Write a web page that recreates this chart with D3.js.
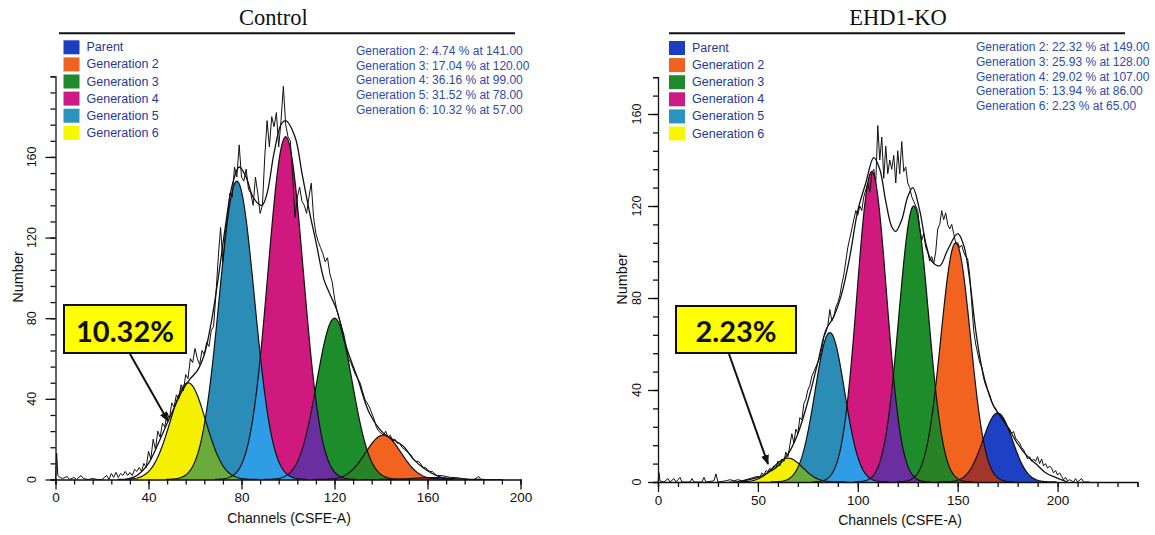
<!DOCTYPE html>
<html>
<head>
<meta charset="utf-8">
<script src="https://cdn.jsdelivr.net/npm/d3@7.9.0/dist/d3.min.js"></script>
<style>
  body { margin: 0; background: #fff; }
  svg text { font-family: "Liberation Sans", Arial, sans-serif; }
</style>
</head>
<body>
<svg id="chart" width="1155" height="535"></svg>
<script>
// legend + peak colours
const legendLabels = ["Parent", "Generation 2", "Generation 3", "Generation 4", "Generation 5", "Generation 6"];
const legendColors = ["#1c3fc2", "#f0621f", "#1f8a2b", "#cc1a86", "#2b93bd", "#f7f700"];
const peakColors = ["#1d40c4", "#f2631f", "#1d8c2a", "#d0197f", "#2b8db6", "#f4f000"];
// colour where two neighbouring peaks overlap (Parent/G2, G2/G3, G3/G4, G4/G5, G5/G6)
const overlapColors = ["#a3352d", "#2a8226", "#6b2ea0", "#2e9de6", "#6aab3c"];

// ---- Control ----
const controlCenters = [162, 141, 120, 99, 78, 57];
const controlHeights = [1, 22, 80, 170, 148, 48];
const controlSigma = 7.6;
const controlPercent = [4.74, 17.04, 36.16, 31.52, 10.32]; // Generation 2..6

const controlHistCh = [0, 0.5, 1, 2, 3, 5, 6, 8, 9, 11, 12, 14, 16, 18, 20, 22, 23, 24, 25, 26, 27, 28, 29, 30, 31, 32, 33, 34, 35, 36, 37, 38, 39,
  40, 41, 42, 43, 44, 45, 46, 47, 48, 49, 50, 51, 52, 53, 54, 55, 56, 57, 58, 59, 60, 61, 62, 63, 64, 65, 66, 67, 68, 69,
  70, 71, 72, 73, 74, 75, 76, 77, 78, 79, 80, 81, 82, 83, 84, 85, 86, 87, 88, 89, 90, 91, 92, 93, 94, 95, 96, 97, 98, 99,
  100, 101, 102, 103, 104, 105, 106, 107, 108, 109, 110, 111, 112, 113, 114, 115, 116, 117, 118, 119, 120, 121, 122, 123, 124,
  125, 126, 127, 128, 129, 130, 131, 132, 133, 134, 135, 136, 137, 138, 139, 140, 141, 142, 143, 144, 145, 146, 147, 148, 149,
  150, 151, 152, 153, 154, 155, 156, 157, 158, 159, 160, 161, 162, 163, 164, 165, 166, 168, 170, 172, 175, 178, 180, 182, 183, 190];
const controlHistN = [0, 13, 2, 1, 0.5, 1.5, 0, 1, 0, 2, 0.5, 0, 0.5, 0, 0, 2, 0, 3, 1, 3.5, 1, 3, 2, 4, 2, 3.5, 2, 5, 4, 6, 4, 8, 6,
  14, 10, 20, 15, 24, 21, 28, 26, 33, 30, 38, 36, 42, 40, 47, 44, 52, 50, 60, 58, 65, 60, 57, 64, 62, 68, 66, 74, 76, 92,
  110, 125, 108, 122, 130, 142, 140, 155, 150, 166, 150, 148, 154, 144, 142, 136, 150, 142, 132, 136, 160, 178, 165, 180, 175, 182, 165, 178, 195, 176,
  170, 168, 150, 130, 140, 145, 138, 136, 132, 140, 147, 130, 122, 118, 115, 112, 108, 110, 102, 98, 90, 84, 80, 76, 72,
  66, 60, 58, 55, 52, 50, 48, 44, 40, 38, 36, 33, 30, 26, 24, 23, 22, 24, 21, 22, 19, 20, 18, 18, 16,
  15, 14, 13, 12, 10, 9, 9, 8, 6, 6, 5, 4, 4, 3, 2, 2, 2, 1.5, 1, 1, 0.5, 0, 0, 1.5, 0, 0];

const controlFitCh = [30, 35, 40, 45, 50, 55, 58, 61, 64, 67, 70, 73, 76, 79, 82, 85, 88.8, 91, 94, 97, 99, 103, 106, 109, 112, 115.5, 118, 121, 125, 130, 135, 141, 145, 149.6, 154, 158, 162, 166, 170];
const controlFitN = [0, 2, 8, 20, 33, 45, 50, 54, 62, 78, 100, 125, 146, 155, 150, 140, 136, 142, 162, 176, 178, 170, 152, 134, 118, 99, 92, 84, 66, 50, 33, 23, 20, 16.5, 10, 6, 3, 1, 0];

// ---- EHD1-KO ----
const koCenters = [170, 149, 128, 107, 86, 65];
const koHeights = [30, 104, 120, 135, 65, 10.4];
const koSigma = 7.4;
const koPercent = [22.32, 25.93, 29.02, 13.94, 2.23];

const koHistCh = [0, 0.5, 1, 3, 5, 6, 8, 9, 11, 12, 16, 17, 18, 22, 23, 24, 28, 29, 30, 34, 36, 38, 40, 42, 44, 46, 48,
  50, 51, 52, 53, 54, 55, 56, 57, 58, 59, 60, 61, 62, 63, 64, 65, 66, 67, 68, 69, 70, 71, 72, 73, 74, 75, 76, 77, 78, 79,
  80, 81, 82, 83, 84, 85, 86, 87, 88, 89, 90, 91, 92, 93, 94, 95, 96, 97, 98, 99, 100, 101, 102, 103, 104, 105, 106, 107, 108, 109,
  110, 111, 112, 113, 114, 115, 116, 117, 118, 119, 120, 121, 122, 123, 124, 125, 126, 127, 128, 129, 130, 131, 132, 133, 134, 135, 136, 137, 138, 139,
  140, 141, 142, 143, 144, 145, 146, 147, 148, 149, 150, 151, 152, 153, 154, 155, 156, 157, 158, 159, 160, 161, 162, 163, 164, 165, 166, 167, 168, 169,
  170, 171, 172, 173, 174, 175, 176, 177, 178, 179, 180, 181, 182, 183, 184, 185, 186, 187, 188, 189, 190, 191, 192, 193, 194, 195, 196, 197, 198, 199,
  200, 201, 202, 203, 204, 205, 206, 208, 209, 210, 212, 213, 216];
const koHistN = [0, 4, 0.5, 0, 1.5, 0, 1.5, 0, 2, 0, 0, 1.5, 0, 0, 2, 0, 0.5, 3.5, 0, 0.5, 1, 0.5, 1, 0.5, 1, 1.5, 2,
  2.5, 2, 4, 3, 5, 4.5, 6, 5, 7, 6, 9, 7, 10, 9, 13, 11, 16, 21, 17, 23, 21, 28, 27, 34, 36, 40, 42, 46, 48, 50,
  52, 54, 58, 63, 65, 68, 75, 70, 72, 76, 78, 81, 86, 90, 96, 102, 106, 110, 114, 118, 116, 120, 118, 124, 127, 130, 126, 134, 136, 130,
  155, 140, 150, 132, 146, 134, 140, 136, 142, 130, 144, 134, 148, 135, 137, 130, 128, 124, 122, 120, 118, 110, 105, 108, 102, 100, 96, 98, 95, 100,
  110, 112, 118, 114, 117, 112, 110, 112, 108, 104, 104, 102, 103, 100, 98, 97, 90, 78, 66, 60, 56, 52, 50, 45, 42, 40, 38, 35, 33, 32,
  30, 29, 28, 27, 25, 24, 23, 21, 22, 19, 18, 17, 15, 14, 12, 10, 11, 9, 10, 9, 11, 8, 10, 7, 8, 6, 7, 6, 4, 5,
  3, 4, 2.5, 1, 2, 0.5, 1, 0, 1.5, 0, 1.5, 0, 0];

const koFitCh = [40, 50, 55, 60, 65, 70, 75, 80, 84, 88, 92, 96, 100, 104, 108, 111, 114, 117, 119, 122, 125, 127.5, 131, 134, 137, 141, 145, 150, 153, 156, 159, 162, 165, 168, 171, 175, 179, 184, 189, 194, 199, 205];
const koFitN = [0, 2, 4, 7, 12, 21, 35, 52, 66, 72, 82, 98, 118, 130, 141, 136, 122, 111, 109, 114, 124, 128, 118, 104, 96, 94, 101, 108, 103, 88, 66, 50, 40, 33, 29, 24, 18, 12, 8, 4, 2, 0];

const svg = d3.select("#chart");

function gaussPoints(c, h, s) {
  return d3.range(c - 4 * s, c + 4 * s + 0.01, 0.5)
    .map(ch => [ch, h * Math.exp(-((ch - c) ** 2) / (2 * s * s))]);
}

function drawPanel(p) {
  const x = d3.scaleLinear().domain([0, p.xMax]).range([p.x0, p.x1]);
  const y = d3.scaleLinear().domain([0, p.yMax]).range([p.y0, p.y1]);
  const g = svg.append("g");

  const area = d3.area().x(d => x(d[0])).y0(y(0)).y1(d => y(d[1]));
  const line = d3.line().x(d => x(d[0])).y(d => y(d[1]));

  // peaks
  const peaks = p.centers.map((c, i) => gaussPoints(c, p.heights[i], p.sigma));
  peaks.forEach((pts, i) => {
    g.append("path").attr("d", area(pts)).attr("fill", peakColors[i]);
  });

  // overlap of neighbouring peaks
  for (let i = 0; i < p.centers.length - 1; i++) {
    const ca = p.centers[i], cb = p.centers[i + 1];
    const pts = d3.range(cb - 4 * p.sigma, ca + 4 * p.sigma + 0.01, 0.5).map(ch => {
      const a = p.heights[i] * Math.exp(-((ch - ca) ** 2) / (2 * p.sigma ** 2));
      const b = p.heights[i + 1] * Math.exp(-((ch - cb) ** 2) / (2 * p.sigma ** 2));
      return [ch, Math.min(a, b)];
    });
    g.append("path").attr("d", area(pts)).attr("fill", overlapColors[i]);
  }

  peaks.forEach(pts => {
    g.append("path").attr("d", line(pts)).attr("fill", "none")
      .attr("stroke", "#111").attr("stroke-width", 1.2);
  });

  // smooth model line
  const fit = p.fitCh.map((c, i) => [c, p.fitN[i]]);
  g.append("path")
    .attr("d", d3.line().x(d => x(d[0])).y(d => y(d[1])).curve(d3.curveCatmullRom.alpha(0.5))(fit))
    .attr("fill", "none").attr("stroke", "#111").attr("stroke-width", 1.3);

  // raw histogram
  const hist = p.histCh.map((c, i) => [c, p.histN[i]]);
  g.append("path").attr("d", line(hist)).attr("fill", "none")
    .attr("stroke", "#111").attr("stroke-width", 1);

  // x axis
  const xMinor = g.append("g").attr("transform", `translate(0,${p.y0})`)
    .call(d3.axisBottom(x).tickValues(d3.range(0, p.xMax + 0.01, p.xMinorStep)).tickSize(5).tickFormat(""));
  const xMajor = g.append("g").attr("transform", `translate(0,${p.y0})`)
    .call(d3.axisBottom(x).tickValues(d3.range(0, p.xLabelMax + 0.01, p.xMajorStep)).tickSize(10).tickPadding(3));
  xMajor.select(".domain").remove();
  xMajor.selectAll("text").attr("font-size", 13.5).attr("fill", "#111");
  [xMinor, xMajor].forEach(a => a.selectAll("line,path").attr("stroke", "#111").attr("stroke-width", 1.3));

  // y axis
  const yMinor = g.append("g").attr("transform", `translate(${p.x0},0)`)
    .call(d3.axisLeft(y).tickValues(d3.range(0, p.yMax + 0.01, 8)).tickSize(5).tickFormat(""));
  const yMajor = g.append("g").attr("transform", `translate(${p.x0},0)`)
    .call(d3.axisLeft(y).tickValues(d3.range(0, 160.01, 40)).tickSize(10).tickFormat(""));
  yMajor.select(".domain").remove();
  [yMinor, yMajor].forEach(a => a.selectAll("line,path").attr("stroke", "#111").attr("stroke-width", 1.3));
  d3.range(0, 160.01, 40).forEach(v => {
    g.append("text").attr("transform", `translate(${p.yTickX},${y(v)}) rotate(-90)`)
      .attr("text-anchor", "middle").attr("dominant-baseline", "central")
      .attr("font-size", 12.5).attr("fill", "#111").text(v);
  });

  g.append("text").attr("x", p.xLabelX).attr("y", p.y0 + 43)
    .attr("text-anchor", "middle").attr("font-size", 14).attr("fill", "#111")
    .text("Channels (CSFE-A)");
  g.append("text").attr("transform", `translate(${p.numberX},${p.numberY}) rotate(-90)`)
    .attr("text-anchor", "middle").attr("dominant-baseline", "central")
    .attr("font-size", 14.5).attr("fill", "#111").text("Number");

  // title (style, so the css default font does not win)
  g.append("text").attr("x", p.titleX).attr("y", 25).attr("text-anchor", "middle")
    .style("font-family", "'Liberation Serif', 'Times New Roman', serif")
    .attr("font-size", 22.5).attr("fill", "#111").text(p.title);
  g.append("line").attr("x1", p.lineX[0]).attr("x2", p.lineX[1])
    .attr("y1", 33.3).attr("y2", 33.3).attr("stroke", "#111").attr("stroke-width", 2);

  // legend
  legendLabels.forEach((lab, i) => {
    const cy = p.legendY + i * 17.1;
    g.append("rect").attr("x", p.legendX).attr("y", cy - 7).attr("width", 16).attr("height", 14)
      .attr("fill", legendColors[i]);
    g.append("text").attr("x", p.legendX + 23).attr("y", cy).attr("dominant-baseline", "central")
      .attr("font-size", 12.5).attr("fill", "#1f38a0").text(lab);
  });

  // stats
  p.percent.forEach((v, i) => {
    g.append("text").attr("x", p.statsX).attr("y", p.statsY + i * 14.7).attr("dominant-baseline", "central")
      .attr("font-size", 12).attr("fill", "#2d4bb0")
      .text(`Generation ${i + 2}: ${v.toFixed(2)} % at ${p.centers[i + 1].toFixed(2)}`);
  });

  // callout
  const b = p.box;
  g.append("rect").attr("x", b.x).attr("y", b.y).attr("width", b.w).attr("height", b.h)
    .attr("fill", "#ffff00").attr("stroke", "#111").attr("stroke-width", 2);
  g.append("text").attr("x", b.x + b.w / 2).attr("y", b.y + b.h / 2 + 1)
    .attr("text-anchor", "middle").attr("dominant-baseline", "central")
    .style("font-family", "Lato, 'Open Sans', sans-serif").attr("font-weight", 700)
    .attr("font-size", 29).attr("fill", "#111")
    .text(p.percent[4].toFixed(2) + "%");
  g.append("line")
    .attr("x1", p.arrow[0][0]).attr("y1", p.arrow[0][1])
    .attr("x2", p.arrow[1][0]).attr("y2", p.arrow[1][1])
    .attr("stroke", "#111").attr("stroke-width", 2).attr("marker-end", "url(#arrowHead)");
}

svg.append("rect").attr("width", 1155).attr("height", 535).attr("fill", "#fff");
svg.append("defs").append("marker")
  .attr("id", "arrowHead").attr("viewBox", "0 0 10 8").attr("refX", 9).attr("refY", 4)
  .attr("markerWidth", 10).attr("markerHeight", 8).attr("markerUnits", "userSpaceOnUse")
  .attr("orient", "auto")
  .append("path").attr("d", "M0,0 L10,4 L0,8 Z").attr("fill", "#111");

drawPanel({
  centers: controlCenters, heights: controlHeights, sigma: controlSigma, percent: controlPercent,
  histCh: controlHistCh, histN: controlHistN, fitCh: controlFitCh, fitN: controlFitN,
  x0: 55.5, x1: 520.5, xMax: 200, xLabelMax: 200, xMajorStep: 40, xMinorStep: 8,
  y0: 479.5, y1: 76.3, yMax: 200,
  title: "Control", titleX: 273.5, lineX: [59, 515],
  legendX: 63.5, legendY: 47.3, statsX: 356, statsY: 51,
  xLabelX: 289, numberX: 18, numberY: 277, yTickX: 32,
  box: { x: 64, y: 305, w: 122, h: 48 }, arrow: [[130, 354], [168, 421]]
});

drawPanel({
  centers: koCenters, heights: koHeights, sigma: koSigma, percent: koPercent,
  histCh: koHistCh, histN: koHistN, fitCh: koFitCh, fitN: koFitN,
  x0: 658, x1: 1137.5, xMax: 240, xLabelMax: 200, xMajorStep: 50, xMinorStep: 10,
  y0: 482, y1: 77.2, yMax: 176,
  title: "EHD1-KO", titleX: 898, lineX: [669, 1125],
  legendX: 669, legendY: 48, statsX: 976, statsY: 47.3,
  xLabelX: 900, numberX: 622, numberY: 279, yTickX: 637,
  box: { x: 676, y: 306, w: 120, h: 47 }, arrow: [[729, 354], [768, 464]]
});
</script>
</body>
</html>
